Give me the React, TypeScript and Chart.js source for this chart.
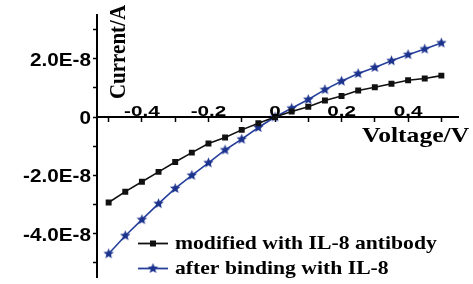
import React, { useEffect, useRef } from "react";
import { Chart, registerables } from "chart.js";

Chart.register(...registerables);

// ---- data (Voltage in V, Current in A) ----
const voltage = [
  -0.5, -0.45, -0.4, -0.35, -0.3, -0.25, -0.2, -0.15, -0.1, -0.05, 0,
  0.05, 0.1, 0.15, 0.2, 0.25, 0.3, 0.35, 0.4, 0.45, 0.5,
];
const modifiedCurrent = [
  -2.93e-8, -2.56e-8, -2.22e-8, -1.88e-8, -1.54e-8, -1.22e-8, -0.91e-8, -0.7e-8, -0.44e-8, -0.21e-8, 0,
  0.19e-8, 0.35e-8, 0.57e-8, 0.72e-8, 0.91e-8, 1.02e-8, 1.14e-8, 1.26e-8, 1.32e-8, 1.42e-8,
];
const boundCurrent = [
  -4.69e-8, -4.07e-8, -3.52e-8, -2.97e-8, -2.45e-8, -2.0e-8, -1.57e-8, -1.13e-8, -0.76e-8, -0.36e-8, 0,
  0.3e-8, 0.6e-8, 0.94e-8, 1.23e-8, 1.49e-8, 1.7e-8, 1.93e-8, 2.14e-8, 2.33e-8, 2.54e-8,
];
const seriesNames = ["modified with IL-8 antibody", "after binding with IL-8"];

const xTickValues = [-0.5, -0.4, -0.3, -0.2, -0.1, 0, 0.1, 0.2, 0.3, 0.4, 0.5];
const xTickLabels = ["", "-0.4", "", "-0.2", "", "0", "", "0.2", "", "0.4", ""];
const yTickValues = [-5e-8, -4e-8, -3e-8, -2e-8, -1e-8, 0, 1e-8, 2e-8, 3e-8];
const yTickLabels = ["", "-4.0E-8", "", "-2.0E-8", "", "0", "", "2.0E-8", ""];
const xTitle = "Voltage/V";
const yTitle = "Current/A";

const BLACK = "#111111";
const BLUE_LINE = "#26409c";
const BLUE_STAR = "#1c338e";

function makeStar(color: string, r: number): HTMLCanvasElement {
  const s = Math.ceil(r * 2 + 2);
  const c = document.createElement("canvas");
  c.width = s;
  c.height = s;
  const g = c.getContext("2d")!;
  g.beginPath();
  for (let i = 0; i < 10; i++) {
    const ang = -Math.PI / 2 + (i * Math.PI) / 5;
    const rr = i % 2 === 0 ? r : r * 0.45;
    g.lineTo(s / 2 + rr * Math.cos(ang), s / 2 + rr * Math.sin(ang));
  }
  g.closePath();
  g.fillStyle = color;
  g.fill();
  return c;
}

function drawText(
  ctx: CanvasRenderingContext2D,
  text: string,
  x: number,
  y: number,
  font: string,
  sx: number,
  align: CanvasTextAlign,
  rotate = false
) {
  ctx.save();
  ctx.translate(x, y);
  if (rotate) {
    ctx.rotate(-Math.PI / 2);
    ctx.scale(1, sx);
  } else {
    ctx.scale(sx, 1);
  }
  ctx.font = font;
  ctx.fillStyle = "#000";
  ctx.textAlign = align;
  ctx.textBaseline = "alphabetic";
  ctx.fillText(text, 0, 0);
  ctx.restore();
}

export default function App() {
  const ref = useRef<HTMLCanvasElement | null>(null);

  useEffect(() => {
    document.body.style.margin = "0";
    const canvas = ref.current;
    if (!canvas) return;
    const star = makeStar(BLUE_STAR, 5.5);

    const textPlugin = {
      id: "ivText",
      afterDraw(chart: any) {
        const ctx: CanvasRenderingContext2D = chart.ctx;
        const xs = chart.scales.x;
        const ys = chart.scales.y;
        const axisY = ys.getPixelForValue(0);
        const sansY = 'bold 19px "Liberation Sans", Arial, sans-serif';
        const sansX = 'bold 15px "Liberation Sans", Arial, sans-serif';
        const serif = 'bold 21px "Liberation Serif", "Times New Roman", serif';
        const serifLegend = 'bold 19px "Liberation Serif", "Times New Roman", serif';

        yTickValues.forEach((v, i) => {
          if (!yTickLabels[i]) return;
          const py = ys.getPixelForValue(v);
          drawText(ctx, yTickLabels[i], ys.right - 6, py + 7, sansY, 1.09, "right");
        });
        xTickValues.forEach((v, i) => {
          if (!xTickLabels[i]) return;
          const px = xs.getPixelForValue(v);
          drawText(ctx, xTickLabels[i], px, axisY - 1, sansX, 1.38, "center");
        });

        // axis titles
        drawText(ctx, xTitle, xs.right - 96, axisY + 25, serif, 1.22, "left");
        drawText(ctx, yTitle, ys.right + 28, axisY - 18, serif, 1.05, "left", true);

        // legend
        const lx = chart.chartArea.left + 41;
        const rows = [
          { y: 243.5, color: BLACK, marker: "rect" },
          { y: 268.5, color: BLUE_LINE, marker: "star" },
        ];
        rows.forEach((r, i) => {
          ctx.save();
          ctx.strokeStyle = r.color;
          ctx.lineWidth = 1.8;
          ctx.beginPath();
          ctx.moveTo(lx, r.y);
          ctx.lineTo(lx + 30, r.y);
          ctx.stroke();
          if (r.marker === "rect") {
            ctx.fillStyle = BLACK;
            ctx.fillRect(lx + 15 - 3, r.y - 3, 6, 6);
          } else {
            ctx.drawImage(star, lx + 15 - star.width / 2, r.y - star.height / 2);
          }
          ctx.restore();
          drawText(ctx, seriesNames[i], lx + 37, r.y + 5.5, serifLegend, 1.14, "left");
        });
      },
    };

    const chart = new Chart(canvas, {
      type: "line",
      data: {
        datasets: [
          {
            label: seriesNames[0],
            data: voltage.map((v, i) => ({ x: v, y: modifiedCurrent[i] })),
            borderColor: BLACK,
            backgroundColor: BLACK,
            borderWidth: 1.6,
            pointStyle: "rect",
            pointRadius: 4.2,
            pointBorderWidth: 0,
            pointBackgroundColor: BLACK,
            tension: 0,
          },
          {
            label: seriesNames[1],
            data: voltage.map((v, i) => ({ x: v, y: boundCurrent[i] })),
            borderColor: BLUE_LINE,
            backgroundColor: BLUE_STAR,
            borderWidth: 1.6,
            pointStyle: star as any,
            pointRadius: 5,
            tension: 0,
          },
        ],
      },
      options: {
        responsive: false,
        animation: false,
        layout: { padding: { top: 15, bottom: 5, right: 15, left: 0 } },
        plugins: {
          legend: { display: false },
          tooltip: { enabled: false },
        },
        scales: {
          x: {
            type: "linear",
            position: { y: 0 } as any,
            min: -0.535,
            max: 0.55,
            afterBuildTicks: (s: any) => {
              s.ticks = xTickValues.map((v) => ({ value: v }));
            },
            ticks: { display: false, autoSkip: false },
            grid: {
              drawOnChartArea: false,
              drawTicks: true,
              tickLength: 4,
              tickColor: "#000",
              tickWidth: 1.5,
            },
            border: { display: true, color: "#000", width: 2 },
          },
          y: {
            type: "linear",
            position: "left",
            min: -5.5e-8,
            max: 3.5e-8,
            afterBuildTicks: (s: any) => {
              s.ticks = yTickValues.map((v) => ({ value: v }));
            },
            afterFit: (s: any) => {
              s.width = 97;
            },
            ticks: { display: false, autoSkip: false },
            grid: {
              drawOnChartArea: false,
              drawTicks: true,
              tickLength: 4,
              tickColor: "#000",
              tickWidth: 1.5,
            },
            border: { display: true, color: "#000", width: 2 },
          },
        },
      },
      plugins: [textPlugin],
    });

    return () => chart.destroy();
  }, []);

  return (
    <div style={{ width: 473, height: 284, background: "#fff" }}>
      <canvas ref={ref} width={473} height={284} style={{ display: "block" }} />
    </div>
  );
}
